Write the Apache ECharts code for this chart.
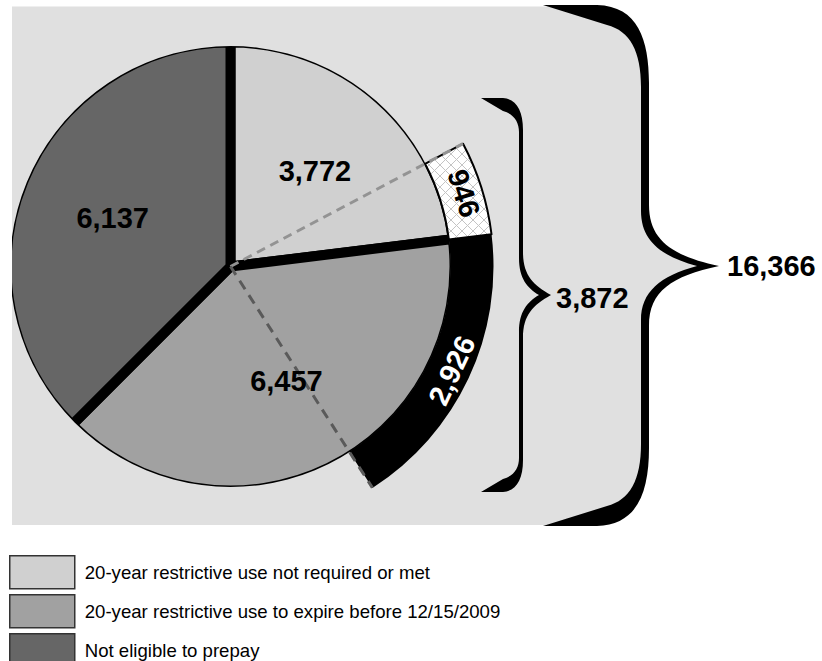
<!DOCTYPE html>
<html>
<head>
<meta charset="utf-8">
<script src="https://cdn.jsdelivr.net/npm/echarts@6/dist/echarts.min.js"></script>
<style>
html,body{margin:0;padding:0;background:#ffffff;}
#chart{width:822px;height:661px;}
</style>
</head>
<body>
<div id="chart"></div>
<script>
// ---------------- data ----------------
const categories = [
  '20-year restrictive use not required or met',
  '20-year restrictive use to expire before 12/15/2009',
  'Not eligible to prepay'
];
const categoryValues = [3772, 6457, 6137];
const subsetNames = [
  'Part of: 20-year restrictive use not required or met',
  'Part of: 20-year restrictive use to expire before 12/15/2009'
];
const subsetValues = [946, 2926];

// ---------------- styles / layout ----------------
const categoryColors = ['#d0d0d0', '#a1a1a1', '#666666'];
const BG = '#e0e0e0';
const FONT = '"Liberation Sans", Arial, Helvetica, sans-serif';
const CX = 230.5, CY = 266.5;
const PIE_R = 219, RING_R = 263, SEP = 10;
const LABEL_SIZE = 29;

const total = categoryValues.reduce((a, b) => a + b, 0);
const subsetTotal = subsetValues.reduce((a, b) => a + b, 0);
const fmt = v => Number(v).toLocaleString('en-US');

// crosshatch pattern
const pc = document.createElement('canvas');
pc.width = 11; pc.height = 11;
const g = pc.getContext('2d');
g.fillStyle = '#ffffff'; g.fillRect(0, 0, 11, 11);
g.strokeStyle = '#c4c4c4'; g.lineWidth = 1;
g.beginPath(); g.moveTo(0, 0); g.lineTo(11, 11); g.moveTo(11, 0); g.lineTo(0, 11); g.stroke();
const hatch = { image: pc, repeat: 'repeat', imageWidth: 11, imageHeight: 11 };

// outer ring data: spacer, subset 1, subset 2, spacer (angles follow the pie)
const ringData = [
  { value: categoryValues[0] - subsetValues[0], name: 'gap-a',
    itemStyle: { color: 'rgba(0,0,0,0)', borderWidth: 0 }, label: { show: false } },
  { value: subsetValues[0], name: subsetNames[0],
    itemStyle: { color: hatch, borderColor: '#000', borderWidth: 2 },
    label: { color: '#000' } },
  { value: subsetValues[1], name: subsetNames[1],
    itemStyle: { color: '#000', borderWidth: 0 },
    label: { color: '#fff' } },
  { value: total - categoryValues[0] - subsetValues[1], name: 'gap-b',
    itemStyle: { color: 'rgba(0,0,0,0)', borderWidth: 0 }, label: { show: false } }
];

const angleA = categoryValues[0] - subsetValues[0];
const angleB = categoryValues[0] + subsetValues[1];

const grayRegion = 'M12,6.5 L597,6.5 C630,8 645,40 645,83 L645,205 C645,240 668,257 708,266 ' +
  'C668,275 645,292 645,326 L645,448 C645,491 630,523 597,525 L12,525 Z';
const bigBrace = 'M543,5 L597,5 C638,6 649,40 649,83 L649,205 C649,240 672,256 719,266 ' +
  'C672,276 649,291 649,326 L649,448 C649,491 638,525 597,526 L543,526 ' +
  'L607,506 C630,500 641,480 641,444 L641,320 C641,292 660,276 697,266 ' +
  'C660,256 641,240 641,211 L641,87 C641,51 630,31 607,25 Z';
const smallBrace = 'M481,98 L503,98 C516,99 523,110 523,130 L523,252 C523,275 533,285 551,295 ' +
  'C533,305 523,315 523,338 L523,460 C523,480 516,491 503,492 L481,492 ' +
  'L503,479 C514,476 519,468 519,458 L519,332 C519,312 527,302 539,295 ' +
  'C527,288 519,278 519,258 L519,132 C519,122 514,114 503,111 Z';

const chart = echarts.init(document.getElementById('chart'), null, { renderer: 'svg', width: 822, height: 661 });

chart.setOption({
  animation: false,
  backgroundColor: '#ffffff',
  textStyle: { fontFamily: FONT },
  legend: {
    data: categories,
    orient: 'vertical',
    left: 9, top: 555, height: 160,
    padding: 0,
    itemWidth: 65, itemHeight: 33, itemGap: 4.5,
    icon: 'rect',
    selectedMode: false,
    itemStyle: { borderColor: '#333', borderWidth: 1.5 },
    textStyle: { fontSize: 18.6, color: '#000', fontFamily: FONT, padding: [0, 0, 0, 5] }
  },
  polar: { center: [CX, CY], radius: RING_R },
  angleAxis: { type: 'value', min: 0, max: total, startAngle: 90, clockwise: true, show: false },
  radiusAxis: { type: 'value', min: 0, max: RING_R, show: false },
  graphic: [
    { type: 'ring', shape: { cx: CX, cy: CY, r: PIE_R + 16, r0: PIE_R + 1.5 }, style: { fill: BG }, z: 3, silent: true },
    { type: 'rect', shape: { x: 0, y: 0, width: 12, height: 540 }, style: { fill: '#ffffff' }, z: 3.5, silent: true },
    { type: 'text', z: 7, silent: true,
      style: { text: fmt(total), x: 727, y: 266, fill: '#000', font: 'bold ' + LABEL_SIZE + 'px ' + FONT,
               verticalAlign: 'middle', textVerticalAlign: 'middle' } },
    { type: 'text', z: 7, silent: true,
      style: { text: fmt(subsetTotal), x: 556, y: 298, fill: '#000', font: 'bold ' + LABEL_SIZE + 'px ' + FONT,
               verticalAlign: 'middle', textVerticalAlign: 'middle' } }
  ],
  series: [
    {
      type: 'custom', name: 'backdrop', coordinateSystem: 'none', silent: true, z: 0,
      data: [[0]],
      renderItem: () => ({ type: 'path', shape: { pathData: grayRegion }, style: { fill: BG } })
    },
    {
      type: 'custom', name: 'braces', coordinateSystem: 'none', silent: true, z: 1,
      data: [[0]],
      renderItem: () => ({
        type: 'group',
        children: [
          { type: 'path', shape: { pathData: bigBrace }, style: { fill: '#000' } },
          { type: 'path', shape: { pathData: smallBrace }, style: { fill: '#000' } }
        ]
      })
    },
    {
      type: 'pie', name: 'main',
      center: [CX, CY], radius: [0, PIE_R + SEP / 2],
      startAngle: 90, clockwise: true,
      data: categories.map((n, i) => ({ name: n, value: categoryValues[i], itemStyle: { color: categoryColors[i] } })),
      itemStyle: { borderColor: '#000', borderWidth: SEP, borderJoin: 'miter' },
      label: { show: false }, labelLine: { show: false },
      emphasis: { disabled: true }, silent: true, z: 2
    },
    {
      type: 'pie', name: 'subsets',
      center: [CX, CY], radius: [PIE_R + 1, RING_R],
      startAngle: 90, clockwise: true,
      data: ringData,
      label: { show: true, position: 'inside', rotate: 'tangential',
               formatter: p => fmt(p.value), fontSize: LABEL_SIZE, fontWeight: 'bold', fontFamily: FONT },
      labelLine: { show: false },
      emphasis: { disabled: true }, silent: true, z: 4
    },
    {
      type: 'line', coordinateSystem: 'polar', name: 'guideA',
      data: [[0, angleA], [RING_R, angleA]],
      symbol: 'none', silent: true, z: 5,
      lineStyle: { color: '#939393', width: 3, type: [9, 6] }
    },
    {
      type: 'line', coordinateSystem: 'polar', name: 'guideB',
      data: [[0, angleB], [RING_R, angleB]],
      symbol: 'none', silent: true, z: 5,
      lineStyle: { color: '#5a5a5a', width: 3, type: [10, 7] }
    },
    {
      type: 'pie', name: 'labels',
      center: [CX, CY], radius: [30, PIE_R],
      startAngle: 90, clockwise: true,
      data: categoryValues.map(v => ({ value: v })),
      itemStyle: { color: 'rgba(0,0,0,0)', borderWidth: 0 },
      label: { show: true, position: 'inside', formatter: p => fmt(p.value),
               fontSize: LABEL_SIZE, fontWeight: 'bold', color: '#000', fontFamily: FONT },
      labelLine: { show: false },
      emphasis: { disabled: true }, silent: true, z: 6
    }
  ]
});
</script>
</body>
</html>
